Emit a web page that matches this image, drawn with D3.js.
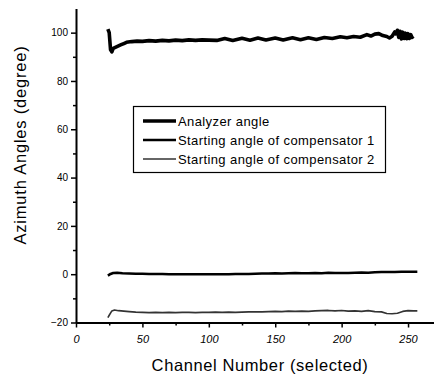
<!DOCTYPE html>
<html>
<head>
<meta charset="utf-8">
<script src="https://cdn.jsdelivr.net/npm/d3@7"></script>
<style>
  html, body { margin: 0; padding: 0; background: #fff; }
  svg { display: block; font-family: "Liberation Sans", Arial, sans-serif; }
</style>
</head>
<body>
<svg id="chart" width="434" height="378"></svg>
<script>
// values
const analyzerCh = [24, 25, 26, 27, 28, 30, 32, 34, 36, 38, 42, 46, 50, 55, 60, 65, 70, 75, 80, 85, 90, 95, 100,
  106, 112, 118, 125, 131, 137, 143, 150, 156, 163, 169, 175, 181, 187, 193, 199, 204, 209, 214, 219, 222, 225,
  228, 231, 234, 236, 238, 240, 241, 242, 243, 244, 245, 246, 247, 248, 249, 250, 251, 252, 253, 254];
const analyzerVal = [101.5, 100, 93, 92, 93.5, 94, 94.5, 95, 95.5, 96, 96.3, 96.5, 96.4, 96.7, 96.5, 96.8, 96.6, 96.9, 96.7, 97, 96.8, 97, 96.9,
  96.8, 97.6, 96.8, 97.7, 96.9, 97.8, 97.0, 97.8, 97.0, 97.9, 97.1, 97.9, 97.2, 98.0, 97.6, 98.3, 97.9, 98.4, 98.1, 99.2, 98.6, 99.4,
  99.6, 98.8, 98.4, 97.8, 98.5, 100.3, 99.5, 101, 98, 100.6, 97.4, 100.2, 97.6, 99.8, 97.5, 99.6, 97.6, 99.2, 98, 98.5];

const comp1Ch = [24, 26, 28, 31, 35, 40, 45, 50, 55, 60, 65, 70, 75, 80, 85, 90, 95, 100, 105, 110, 115, 120, 125, 130,
  135, 140, 145, 150, 155, 160, 165, 170, 175, 180, 185, 190, 195, 200, 205, 210, 215, 220, 225, 230, 235, 240, 245, 250, 255, 257];
const comp1Val = [-0.6, 0.1, 0.5, 0.6, 0.4, 0.3, 0.2, 0.2, 0.1, 0.1, 0.1, 0.0, 0.0, 0.0, 0.0, 0.0, 0.0, 0.0, 0.0, 0.0, 0.0, 0.1, 0.1, 0.1,
  0.2, 0.3, 0.3, 0.4, 0.3, 0.4, 0.5, 0.4, 0.4, 0.5, 0.4, 0.6, 0.5, 0.5, 0.5, 0.6, 0.7, 0.6, 0.8, 0.9, 0.9, 0.9, 1.0, 1.0, 1.0, 1.0];

const comp2Ch = [24, 25, 27, 29, 32, 36, 40, 45, 50, 55, 60, 65, 70, 75, 80, 85, 90, 95, 100, 105, 110, 115, 120, 125, 130,
  135, 140, 145, 150, 155, 160, 165, 170, 175, 180, 185, 190, 195, 200, 205, 210, 215, 220, 225, 230, 234, 238, 242, 246, 250, 254, 257];
const comp2Val = [-18, -17, -15.2, -14.8, -15.1, -15.3, -15.5, -15.7, -15.8, -15.9, -15.8, -15.9, -15.8, -15.9, -15.8, -15.8, -15.9, -15.8, -15.8, -15.7, -15.8, -15.7, -15.8, -15.7, -15.6,
  -15.6, -15.6, -15.5, -15.4, -15.5, -15.3, -15.4, -15.3, -15.4, -15.2, -15.1, -15.0, -15.2, -15.0, -15.3, -15.2, -15.4, -15.1, -15.5, -15.6, -16.3, -16.4, -16.2, -15.4, -15.1, -15.2, -15.2];

const seriesNames = ["Analyzer angle", "Starting angle of compensator 1", "Starting angle of compensator 2"];
const xTicks = [0, 50, 100, 150, 200, 250];
const yTicks = [-20, 0, 20, 40, 60, 80, 100];

const svg = d3.select("#chart");
const x = d3.scaleLinear().domain([0, 270]).range([76, 434.6]);
const y = d3.scaleLinear().domain([-20, 110]).range([322.5, 8.5]);

const series = [
  { name: seriesNames[0], ch: analyzerCh, val: analyzerVal, color: "#000", width: 3.6 },
  { name: seriesNames[1], ch: comp1Ch, val: comp1Val, color: "#000", width: 2.6 },
  { name: seriesNames[2], ch: comp2Ch, val: comp2Val, color: "#333", width: 1.6 },
];

const line = d3.line().x(d => x(d[0])).y(d => y(d[1]));

svg.selectAll("path.series")
  .data(series)
  .enter()
  .append("path")
  .attr("class", "series")
  .attr("fill", "none")
  .attr("stroke", d => d.color)
  .attr("stroke-width", d => d.width)
  .attr("stroke-linejoin", "round")
  .attr("d", d => line(d.ch.map((c, i) => [c, d.val[i]])));

// minor ticks
const yMinor = d3.range(-10, 110, 20);
const xMinor = d3.range(25, 270, 50);
svg.append("g")
  .attr("transform", "translate(76,0)")
  .call(d3.axisLeft(y).tickValues(yMinor).tickSize(3).tickFormat(""))
  .call(g => g.select(".domain").remove())
  .selectAll("line").attr("stroke-width", 1.5);
svg.append("g")
  .attr("transform", "translate(0,322.5)")
  .call(d3.axisBottom(x).tickValues(xMinor).tickSize(3).tickFormat(""))
  .call(g => g.select(".domain").remove())
  .selectAll("line").attr("stroke-width", 1.5);

// y axis
const yAxis = svg.append("g")
  .attr("transform", "translate(76,0)")
  .call(d3.axisLeft(y).tickValues(yTicks).tickSize(5).tickSizeOuter(0).tickPadding(3));
yAxis.select(".domain").attr("stroke-width", 2);
yAxis.selectAll("line").attr("stroke-width", 1.5);
yAxis.selectAll("text")
  .attr("font-size", 10)
  .attr("font-family", "Liberation Sans, Arial, sans-serif")
  .attr("fill", "#000");

// x axis
const xAxis = svg.append("g")
  .attr("transform", "translate(0,322.5)")
  .call(d3.axisBottom(x).tickValues(xTicks).tickSize(5).tickSizeOuter(0).tickPadding(8));
xAxis.select(".domain").attr("stroke-width", 2);
xAxis.selectAll("line").attr("stroke-width", 1.5);
xAxis.selectAll("text")
  .attr("font-size", 11)
  .attr("font-style", "italic")
  .attr("font-family", "Liberation Sans, Arial, sans-serif")
  .attr("fill", "#000");

// axis titles
svg.append("text")
  .attr("transform", "translate(26,145) rotate(-90)")
  .attr("text-anchor", "middle")
  .attr("font-size", 16.5)
  .attr("letter-spacing", 0.8)
  .attr("fill", "#000")
  .text("Azimuth Angles (degree)");

svg.append("text")
  .attr("x", 260)
  .attr("y", 371)
  .attr("text-anchor", "middle")
  .attr("font-size", 16.5)
  .attr("letter-spacing", 0.6)
  .attr("fill", "#000")
  .text("Channel Number (selected)");

// legend
const legend = svg.append("g");
legend.append("rect")
  .attr("x", 133.5).attr("y", 106.5)
  .attr("width", 252).attr("height", 66)
  .attr("fill", "#fff").attr("stroke", "#000").attr("stroke-width", 1.2);

const rowY = [121, 140, 159];
const rows = legend.selectAll("g.row")
  .data(series)
  .enter()
  .append("g")
  .attr("class", "row")
  .attr("transform", (d, i) => `translate(0,${rowY[i]})`);
rows.append("line")
  .attr("x1", 143).attr("x2", 176)
  .attr("stroke", d => d.color)
  .attr("stroke-width", d => d.width);
rows.append("text")
  .attr("x", 178)
  .attr("y", 4.5)
  .attr("font-size", 13)
  .attr("letter-spacing", 0.4)
  .attr("fill", "#000")
  .text(d => d.name);
</script>
</body>
</html>
